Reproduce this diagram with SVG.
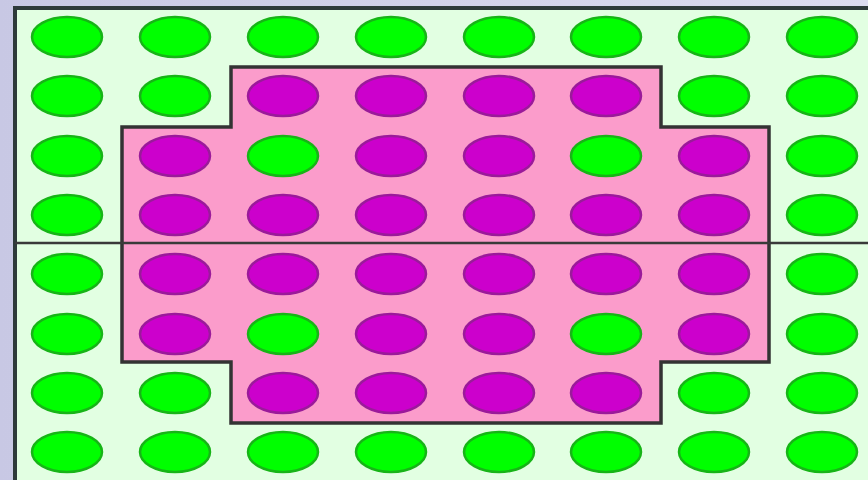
<svg xmlns="http://www.w3.org/2000/svg" width="868" height="480" viewBox="0 0 868 480">
<defs>
<linearGradient id="bg" x1="0" y1="0" x2="1" y2="0">
<stop offset="0" stop-color="#c8c8e4"/>
<stop offset="1" stop-color="#dcdcf0"/>
</linearGradient>
<style>
.g{fill:#00ff00;stroke:#17b417;stroke-width:2.5}
.p{fill:#cc00cc;stroke:#9a1a9a;stroke-width:2.5}
.frame{fill:#e2ffe2;stroke:#2e3a3a;stroke-width:4}
.region{fill:#fb9ccb;stroke:#333333;stroke-width:3.5}
.line{stroke:#3a3a3a;stroke-width:2.5;fill:none}
</style>
</defs>
<rect x="0" y="0" width="868" height="480" fill="url(#bg)"/>
<rect id="frame" class="frame" x="15" y="8" width="870" height="490"/>
<g id="region">
<polygon class="region" points="231,67 661,67 661,127 769,127 769,362 661,362 661,423 231,423 231,362 122,362 122,127 231,127"/>
</g>
<g id="cells">
<ellipse class="g" cx="67" cy="37" rx="35" ry="20"/><ellipse class="g" cx="175" cy="37" rx="35" ry="20"/><ellipse class="g" cx="283" cy="37" rx="35" ry="20"/><ellipse class="g" cx="391" cy="37" rx="35" ry="20"/><ellipse class="g" cx="499" cy="37" rx="35" ry="20"/><ellipse class="g" cx="606" cy="37" rx="35" ry="20"/><ellipse class="g" cx="714" cy="37" rx="35" ry="20"/><ellipse class="g" cx="822" cy="37" rx="35" ry="20"/>
<ellipse class="g" cx="67" cy="96" rx="35" ry="20"/><ellipse class="g" cx="175" cy="96" rx="35" ry="20"/><ellipse class="p" cx="283" cy="96" rx="35" ry="20"/><ellipse class="p" cx="391" cy="96" rx="35" ry="20"/><ellipse class="p" cx="499" cy="96" rx="35" ry="20"/><ellipse class="p" cx="606" cy="96" rx="35" ry="20"/><ellipse class="g" cx="714" cy="96" rx="35" ry="20"/><ellipse class="g" cx="822" cy="96" rx="35" ry="20"/>
<ellipse class="g" cx="67" cy="156" rx="35" ry="20"/><ellipse class="p" cx="175" cy="156" rx="35" ry="20"/><ellipse class="g" cx="283" cy="156" rx="35" ry="20"/><ellipse class="p" cx="391" cy="156" rx="35" ry="20"/><ellipse class="p" cx="499" cy="156" rx="35" ry="20"/><ellipse class="g" cx="606" cy="156" rx="35" ry="20"/><ellipse class="p" cx="714" cy="156" rx="35" ry="20"/><ellipse class="g" cx="822" cy="156" rx="35" ry="20"/>
<ellipse class="g" cx="67" cy="215" rx="35" ry="20"/><ellipse class="p" cx="175" cy="215" rx="35" ry="20"/><ellipse class="p" cx="283" cy="215" rx="35" ry="20"/><ellipse class="p" cx="391" cy="215" rx="35" ry="20"/><ellipse class="p" cx="499" cy="215" rx="35" ry="20"/><ellipse class="p" cx="606" cy="215" rx="35" ry="20"/><ellipse class="p" cx="714" cy="215" rx="35" ry="20"/><ellipse class="g" cx="822" cy="215" rx="35" ry="20"/>
<ellipse class="g" cx="67" cy="274" rx="35" ry="20"/><ellipse class="p" cx="175" cy="274" rx="35" ry="20"/><ellipse class="p" cx="283" cy="274" rx="35" ry="20"/><ellipse class="p" cx="391" cy="274" rx="35" ry="20"/><ellipse class="p" cx="499" cy="274" rx="35" ry="20"/><ellipse class="p" cx="606" cy="274" rx="35" ry="20"/><ellipse class="p" cx="714" cy="274" rx="35" ry="20"/><ellipse class="g" cx="822" cy="274" rx="35" ry="20"/>
<ellipse class="g" cx="67" cy="334" rx="35" ry="20"/><ellipse class="p" cx="175" cy="334" rx="35" ry="20"/><ellipse class="g" cx="283" cy="334" rx="35" ry="20"/><ellipse class="p" cx="391" cy="334" rx="35" ry="20"/><ellipse class="p" cx="499" cy="334" rx="35" ry="20"/><ellipse class="g" cx="606" cy="334" rx="35" ry="20"/><ellipse class="p" cx="714" cy="334" rx="35" ry="20"/><ellipse class="g" cx="822" cy="334" rx="35" ry="20"/>
<ellipse class="g" cx="67" cy="393" rx="35" ry="20"/><ellipse class="g" cx="175" cy="393" rx="35" ry="20"/><ellipse class="p" cx="283" cy="393" rx="35" ry="20"/><ellipse class="p" cx="391" cy="393" rx="35" ry="20"/><ellipse class="p" cx="499" cy="393" rx="35" ry="20"/><ellipse class="p" cx="606" cy="393" rx="35" ry="20"/><ellipse class="g" cx="714" cy="393" rx="35" ry="20"/><ellipse class="g" cx="822" cy="393" rx="35" ry="20"/>
<ellipse class="g" cx="67" cy="452" rx="35" ry="20"/><ellipse class="g" cx="175" cy="452" rx="35" ry="20"/><ellipse class="g" cx="283" cy="452" rx="35" ry="20"/><ellipse class="g" cx="391" cy="452" rx="35" ry="20"/><ellipse class="g" cx="499" cy="452" rx="35" ry="20"/><ellipse class="g" cx="606" cy="452" rx="35" ry="20"/><ellipse class="g" cx="714" cy="452" rx="35" ry="20"/><ellipse class="g" cx="822" cy="452" rx="35" ry="20"/>
</g>
<g id="connectors">
<line class="line" x1="15" y1="243" x2="868" y2="243"/>
</g>
</svg>
